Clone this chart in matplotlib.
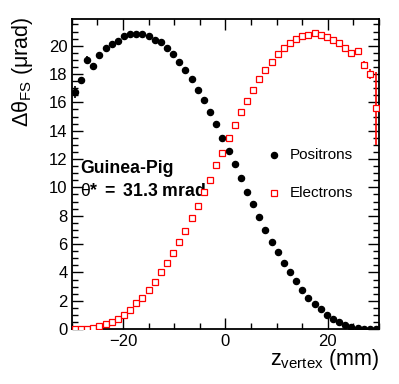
import numpy as np
import matplotlib
matplotlib.use('Agg')
import matplotlib.pyplot as plt
from matplotlib.ticker import MultipleLocator

plt.rcParams['font.family'] = ['Liberation Sans', 'DejaVu Sans']
plt.rcParams['mathtext.fontset'] = 'custom'
plt.rcParams['mathtext.rm'] = 'Liberation Sans'
plt.rcParams['mathtext.it'] = 'Liberation Sans'
plt.rcParams['mathtext.bf'] = 'Liberation Sans:bold'

# bin centres: 50 bins of 1.2 mm between -30 and 30
z_edges = np.linspace(-30, 30, 51)
z_centres = 0.5 * (z_edges[:-1] + z_edges[1:])

positrons = [16.73, 17.60, 18.99, 18.54, 19.34, 19.84, 20.12, 20.33, 20.68, 20.82,
             20.80, 20.80, 20.70, 20.42, 20.24, 19.86, 19.39, 18.84, 18.28, 17.64,
             16.91, 16.20, 15.31, 14.47, 13.52, 12.60, 11.64, 10.67, 9.70, 8.81,
             7.89, 7.00, 6.17, 5.44, 4.69, 4.05, 3.37, 2.76, 2.21, 1.74,
             1.39, 0.97, 0.71, 0.47, 0.30, 0.16, 0.09, 0.03, 0.01, 0.0]
positrons_err = [0.40, 0.22, 0.30, 0.20] + [0.05] * 46

electrons = [0.0, 0.02, 0.03, 0.10, 0.19, 0.33, 0.49, 0.73, 0.99, 1.37,
             1.81, 2.21, 2.78, 3.35, 4.00, 4.64, 5.37, 6.13, 6.95, 7.82,
             8.66, 9.68, 10.55, 11.57, 12.46, 13.46, 14.38, 15.29, 16.11, 16.91,
             17.62, 18.28, 18.87, 19.39, 19.81, 20.16, 20.47, 20.68, 20.75, 20.87,
             20.73, 20.59, 20.42, 20.19, 19.86, 19.48, 19.65, 18.64, 18.00, 15.57]
electrons_err = [0.05] * 46 + [0.12, 0.30, 0.33, 2.55]

fig = plt.figure(figsize=(3.99, 3.84), dpi=100)
ax = fig.add_axes([0.180, 0.143, 0.770, 0.808])

ax.errorbar(z_centres, positrons, yerr=positrons_err, fmt='o', color='black',
            ms=4.4, elinewidth=1.2, capsize=0, zorder=3)
ax.errorbar(z_centres, electrons, yerr=electrons_err, fmt='s', mfc='white', mec='red',
            color='red', ms=4.4, mew=0.9, elinewidth=1.2, capsize=0, zorder=3)

ax.set_xlim(-30, 30)
ax.set_ylim(0, 21.9)
ax.xaxis.set_major_locator(MultipleLocator(20))
ax.xaxis.set_minor_locator(MultipleLocator(5))
ax.yaxis.set_major_locator(MultipleLocator(2))
ax.yaxis.set_minor_locator(MultipleLocator(0.5))
ax.tick_params(which='both', direction='in', top=True, right=True, labelsize=12, width=1)
ax.tick_params(which='major', length=8)
ax.tick_params(which='minor', length=4)
ax.tick_params(axis='x', pad=3.5)
ax.tick_params(axis='y', pad=3)
for s in ax.spines.values():
    s.set_linewidth(1.3)

# axis titles, ROOT style: aligned to the top / right end of the axes
ax.text(-0.142, 1.007, r'$\Delta\theta_{\mathrm{FS}}$ ($\mu$rad)', transform=ax.transAxes,
        rotation=90, rotation_mode='anchor', ha='right', va='baseline', fontsize=15.5)
ax.text(1.0, -0.117, r'z$_{\mathrm{vertex}}$ (mm)', transform=ax.transAxes,
        ha='right', va='baseline', fontsize=15.5)

# legend drawn by hand like the ROOT TLegend
ax.plot([0.658], [0.562], 'o', color='black', ms=4.4, transform=ax.transAxes)
ax.text(0.708, 0.562, 'Positrons', transform=ax.transAxes, va='center', fontsize=11)
ax.plot([0.658], [0.440], 's', mfc='white', mec='red', ms=4.4, mew=0.9, transform=ax.transAxes)
ax.text(0.708, 0.440, 'Electrons', transform=ax.transAxes, va='center', fontsize=11)

ax.text(0.026, 0.519, 'Guinea-Pig', transform=ax.transAxes, va='center',
        fontsize=12.7, fontweight='bold')
ax.text(0.026, 0.443, r'$\theta\mathbf{*\ =\ 31.3\ mrad}$', transform=ax.transAxes,
        va='center', fontsize=12.7)

fig.savefig('out.png', dpi=100)
